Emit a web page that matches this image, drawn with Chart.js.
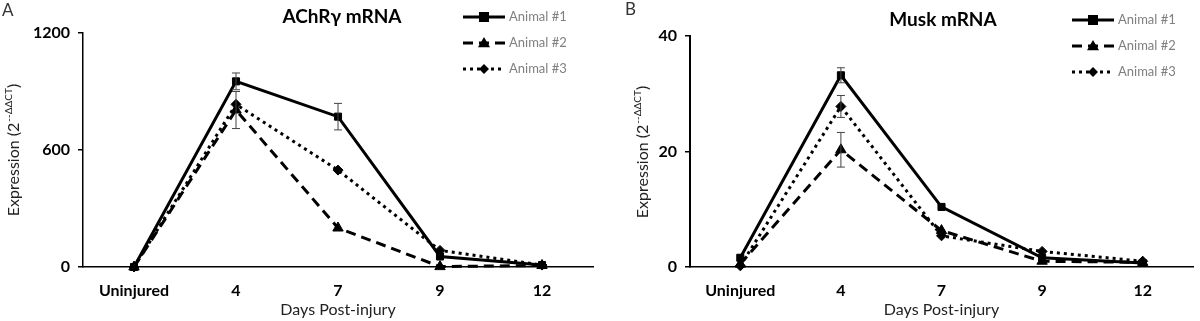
<!DOCTYPE html>
<html>
<head>
<meta charset="utf-8">
<script src="https://cdn.jsdelivr.net/npm/chart.js@4"></script>
<style>
  html, body { margin: 0; padding: 0; background: #fff; }
  #wrap { position: relative; width: 1200px; height: 321px; }
  .panel { position: absolute; top: 0; width: 600px; height: 321px; }
</style>
</head>
<body>
<div id="wrap">
  <div class="panel" style="left:0"><canvas id="achr" width="600" height="321"></canvas></div>
  <div class="panel" style="left:600px"><canvas id="musk" width="600" height="321"></canvas></div>
</div>
<script>
const days = ["Uninjured", "4", "7", "9", "12"];
const animals = ["Animal #1", "Animal #2", "Animal #3"];

// AChR gamma expression
const achrAnimal1 = [0, 952, 771, 54, 10];
const achrAnimal2 = [0, 805, 200, 2, 8];
const achrAnimal3 = [0, 834, 497, 85, 10];
const achrErr1 = [0, 43, 68, 0, 0];
const achrErr2 = [0, 95, 0, 0, 0];
const achrErr3 = [0, 0, 0, 0, 0];
const achrTicks = [0, 600, 1200];

// MuSK expression
const muskAnimal1 = [1.6, 33.2, 10.4, 1.6, 0.7];
const muskAnimal2 = [0.5, 20.3, 6.3, 1.0, 0.8];
const muskAnimal3 = [0.2, 27.8, 5.4, 2.7, 1.0];
const muskErr1 = [0, 1.3, 0, 0, 0];
const muskErr2 = [0, 3.0, 0, 0, 0];
const muskErr3 = [0, 1.9, 0, 0, 0];
const muskTicks = [0, 20, 40];

const FONT = "Lato, 'Open Sans', sans-serif";

const lineStyles = [
  { dash: [], point: "rect", radius: 5 },
  { dash: [10, 6], point: "triangle", radius: 6 },
  { dash: [3, 4], point: "rectRot", radius: 5 }
];

function makeDatasets(series, errors) {
  return series.map((values, i) => ({
    label: animals[i],
    data: values,
    errors: errors[i],
    borderColor: "#000",
    backgroundColor: "#000",
    borderWidth: 3,
    borderDash: lineStyles[i].dash,
    pointStyle: lineStyles[i].point,
    pointRadius: lineStyles[i].radius,
    pointBackgroundColor: "#000",
    pointBorderColor: "#000",
    pointBorderWidth: 1,
    tension: 0,
    clip: false,
    order: 3 - i
  }));
}

function drawMarker(ctx, style, r, x, y) {
  ctx.save();
  ctx.fillStyle = "#000";
  ctx.beginPath();
  if (style === "rect") {
    ctx.rect(x - r, y - r, 2 * r, 2 * r);
  } else if (style === "triangle") {
    ctx.moveTo(x, y - r);
    ctx.lineTo(x + r, y + r * 0.7);
    ctx.lineTo(x - r, y + r * 0.7);
    ctx.closePath();
  } else {
    ctx.moveTo(x, y - r);
    ctx.lineTo(x + r, y);
    ctx.lineTo(x, y + r);
    ctx.lineTo(x - r, y);
    ctx.closePath();
  }
  ctx.fill();
  ctx.restore();
}

// error bars, legend, panel title and y-axis title
const decorations = {
  id: "decorations",
  afterDatasetsDraw(chart, args, opts) {
    const ctx = chart.ctx;
    const y = chart.scales.y;

    ctx.save();
    ctx.strokeStyle = "#444";
    ctx.lineWidth = 1;
    chart.data.datasets.forEach((ds, di) => {
      const meta = chart.getDatasetMeta(di);
      ds.errors.forEach((e, i) => {
        if (!e) return;
        const px = meta.data[i].x;
        const top = y.getPixelForValue(ds.data[i] + e);
        const bot = y.getPixelForValue(ds.data[i] - e);
        ctx.beginPath();
        ctx.moveTo(px, top); ctx.lineTo(px, bot);
        ctx.moveTo(px - 4, top); ctx.lineTo(px + 4, top);
        ctx.moveTo(px - 4, bot); ctx.lineTo(px + 4, bot);
        ctx.stroke();
      });
    });
    ctx.restore();

    // legend
    ctx.save();
    chart.data.datasets.forEach((ds, di) => {
      const ly = opts.legendY + di * 26;
      ctx.strokeStyle = "#000";
      ctx.lineWidth = 3;
      ctx.setLineDash(ds.borderDash);
      ctx.beginPath();
      ctx.moveTo(opts.legendX, ly);
      ctx.lineTo(opts.legendX + 42, ly);
      ctx.stroke();
      ctx.setLineDash([]);
      drawMarker(ctx, ds.pointStyle, ds.pointRadius, opts.legendX + 21, ly);
      ctx.fillStyle = "#7f7f7f";
      ctx.font = "13px " + FONT;
      ctx.textAlign = "left";
      ctx.textBaseline = "middle";
      ctx.fillText(ds.label, opts.legendX + 46, ly);
    });
    ctx.restore();

    // panel letter and title
    ctx.save();
    ctx.fillStyle = "#333";
    ctx.font = "17px " + FONT;
    ctx.textAlign = "left";
    ctx.textBaseline = "middle";
    ctx.fillText(opts.letter, opts.letterX, opts.letterY);
    ctx.fillStyle = "#000";
    ctx.font = "bold 19px " + FONT;
    ctx.textAlign = "center";
    ctx.fillText(opts.title, opts.titleX, opts.titleY);
    ctx.restore();

    // rotated y-axis title with superscript
    ctx.save();
    ctx.translate(opts.yTitleX, opts.yTitleY);
    ctx.rotate(-Math.PI / 2);
    ctx.fillStyle = "#222";
    ctx.textBaseline = "middle";
    ctx.textAlign = "left";
    const main = "Expression (2";
    const sup = "--\u0394\u0394CT";
    ctx.font = "16px " + FONT;
    const w1 = ctx.measureText(main).width;
    const w3 = ctx.measureText(")").width;
    ctx.font = "10px " + FONT;
    const w2 = ctx.measureText(sup).width + 1;
    let x = -(w1 + w2 + w3) / 2;
    ctx.font = "16px " + FONT;
    ctx.fillText(main, x, 0);
    x += w1;
    ctx.font = "10px " + FONT;
    ctx.fillText(sup, x + 1, -5);
    x += w2;
    ctx.font = "16px " + FONT;
    ctx.fillText(")", x, 0);
    ctx.restore();
  }
};

function makePanel(canvasId, series, errors, ticks, cfg) {
  const ctx = document.getElementById(canvasId);
  return new Chart(ctx, {
    type: "line",
    data: { labels: days, datasets: makeDatasets(series, errors) },
    options: {
      responsive: false,
      animation: false,
      events: [],
      layout: { padding: { left: 0, right: cfg.padRight, top: cfg.padTop, bottom: 0 } },
      plugins: {
        legend: { display: false },
        tooltip: { enabled: false },
        decorations: cfg.deco
      },
      scales: {
        x: {
          offset: true,
          grid: { display: false, drawTicks: false },
          border: { display: true, color: "#000", width: 1.5 },
          ticks: { color: "#000", font: { family: FONT, size: 16, weight: "bold" }, padding: 14 },
          title: {
            display: true, text: "Days Post-injury", color: "#222",
            font: { family: FONT, size: 16 }, padding: { top: 0, bottom: 2 }
          },
          afterFit(scale) { scale.height = 321 - cfg.axisBottom; }
        },
        y: {
          min: ticks[0],
          max: ticks[ticks.length - 1],
          afterBuildTicks(scale) { scale.ticks = ticks.map(v => ({ value: v })); },
          grid: { drawOnChartArea: false, drawTicks: true, tickLength: 5, color: "#000", lineWidth: 1.5 },
          border: { display: true, color: "#000", width: cfg.yAxisWidth },
          ticks: {
            color: "#000", font: { family: FONT, size: 16, weight: "bold" }, padding: 8,
            callback: v => String(v)
          },
          afterFit(scale) { scale.width = cfg.axisLeft; }
        }
      }
    },
    plugins: [decorations]
  });
}

makePanel("achr", [achrAnimal1, achrAnimal2, achrAnimal3], [achrErr1, achrErr2, achrErr3], achrTicks, {
  padRight: 7, padTop: 33, axisLeft: 83, axisBottom: 267, yAxisWidth: 1.5,
  deco: {
    legendX: 463, legendY: 17, letter: "A", letterX: 2, letterY: 11,
    title: "AChR\u03b3 mRNA", titleX: 342, titleY: 17, yTitleX: 14, yTitleY: 150
  }
});

makePanel("musk", [muskAnimal1, muskAnimal2, muskAnimal3], [muskErr1, muskErr2, muskErr3], muskTicks, {
  padRight: 3, padTop: 36, axisLeft: 90, axisBottom: 267, yAxisWidth: 2,
  deco: {
    legendX: 472, legendY: 20, letter: "B", letterX: 25, letterY: 10,
    title: "Musk mRNA", titleX: 343, titleY: 20, yTitleX: 43, yTitleY: 152
  }
});
</script>
</body>
</html>
